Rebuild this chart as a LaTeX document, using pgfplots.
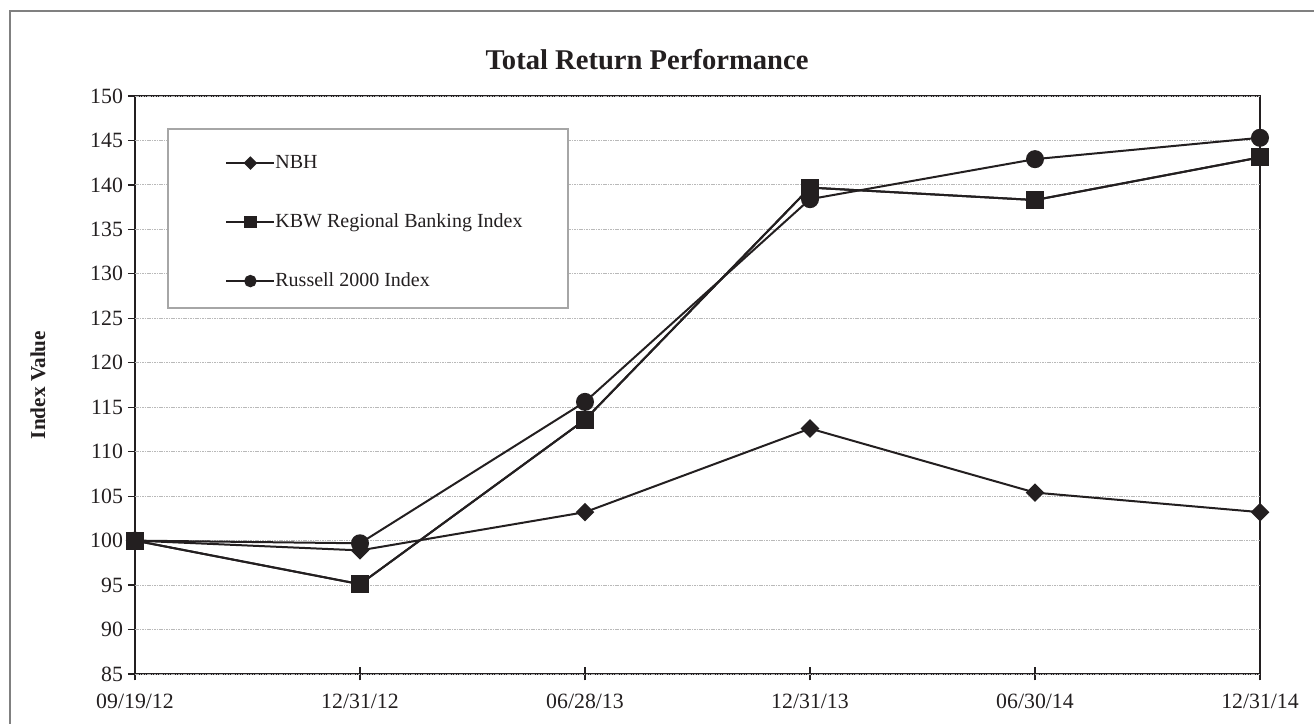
\documentclass[border=0pt]{standalone}
\usepackage{pgfplots}
\pgfplotsset{compat=1.18}
\usepackage{pgfplotstable}
\usepackage{fontspec}
\setmainfont{Liberation Serif}
\definecolor{ink}{HTML}{231F20}
\definecolor{frame}{HTML}{808080}
\pgfplotstableread{
x NBH KBW Russell
0 100 100 100
1 98.9 95.1 99.7
2 103.2 113.6 115.6
3 112.6 139.7 138.4
4 105.4 138.3 142.9
5 103.2 143.1 145.3
}\datatable
\begin{document}
\begin{tikzpicture}
\useasboundingbox (-67.5pt,-25pt) rectangle (589.5pt,337pt);
\begin{axis}[
  at={(0pt,0pt)}, anchor=south west,
  scale only axis, width=562.5pt, height=289pt,
  xmin=0, xmax=5, ymin=85, ymax=150,
  xtick={0,1,2,3,4,5},
  xticklabels={09/19/12,12/31/12,06/28/13,12/31/13,06/30/14,12/31/14},
  ytick=\empty,
  extra y ticks={85,90,...,150},
  extra y tick style={major tick length=3.5pt, tick align=outside, ymajorgrids=true,
    yticklabel style={xshift=1pt}},
  clip=false,
  axis line style={ink, line width=1pt},
  tick style={ink, line width=0.6pt},
  xtick pos=bottom, ytick pos=left,
  major tick length=6.5pt,
  xtick align=center,
  major grid style={gray!55, line width=0.45pt, dash pattern=on 0.8pt off 0.4pt},
  /pgf/number format/assume math mode=true,
  tick label style={font=\fontsize{10.9}{12}\selectfont, text=ink},
  xticklabel style={yshift=-3.2pt},
  every axis y label/.style={at={(axis description cs:-0.0862,0.5)}, rotate=90, anchor=center, font=\bfseries\fontsize{10.6}{12}\selectfont, text=ink},
  ylabel={Index Value},
  legend style={draw=none, fill=none, at={(axis description cs:0.08,0.9002)}, anchor=north west,
    inner sep=0pt, row sep=20.5pt, font=\fontsize{10}{12}\selectfont, text=ink,
    nodes={inner sep=0pt, text height=7pt, text depth=2pt},
    /tikz/every even column/.append style={column sep=2.4pt}},
  legend cell align=left,
  every axis plot/.append style={ink, line width=1pt},
]
\fill[white] (axis description cs:0.0293,0.6332) rectangle (axis description cs:0.3849,0.9429);
\draw[gray!70, line width=0.6pt] (axis description cs:0.0293,0.6332) rectangle (axis description cs:0.3849,0.9429);
\addplot[mark=square*, mark size=2.8pt, mark options={rotate=45, fill=ink},
  legend image code/.code={\draw[mark repeat=2,mark phase=2,mark size=1.9pt] plot coordinates {(0pt,0pt)(12pt,0pt)(24pt,0pt)};}]
  table[x=x,y=NBH] {\datatable};
\addlegendentry{NBH}
\addplot[mark=square*, mark size=4pt, mark options={fill=ink},
  legend image code/.code={\draw[mark repeat=2,mark phase=2,mark size=2.6pt] plot coordinates {(0pt,0pt)(12pt,0pt)(24pt,0pt)};}]
  table[x=x,y=KBW] {\datatable};
\addlegendentry{KBW Regional Banking Index}
\addplot[mark=*, mark size=4pt, mark options={fill=ink},
  legend image code/.code={\draw[mark repeat=2,mark phase=2,mark size=2.6pt] plot coordinates {(0pt,0pt)(12pt,0pt)(24pt,0pt)};}]
  table[x=x,y=Russell] {\datatable};
\addlegendentry{Russell 2000 Index}
\addplot[forget plot, mark=square*, mark size=4pt, mark options={fill=ink}]
  table[x=x,y=KBW] {\datatable};
\end{axis}
\node[anchor=base, font=\bfseries\fontsize{14.3}{16}\selectfont, text=ink] at (256pt,302pt) {Total Return Performance};
\draw[frame, line width=0.7pt] (-62.5pt,-40pt) -- (-62.5pt,331.5pt) -- (600pt,331.5pt);
\end{tikzpicture}
\end{document}
